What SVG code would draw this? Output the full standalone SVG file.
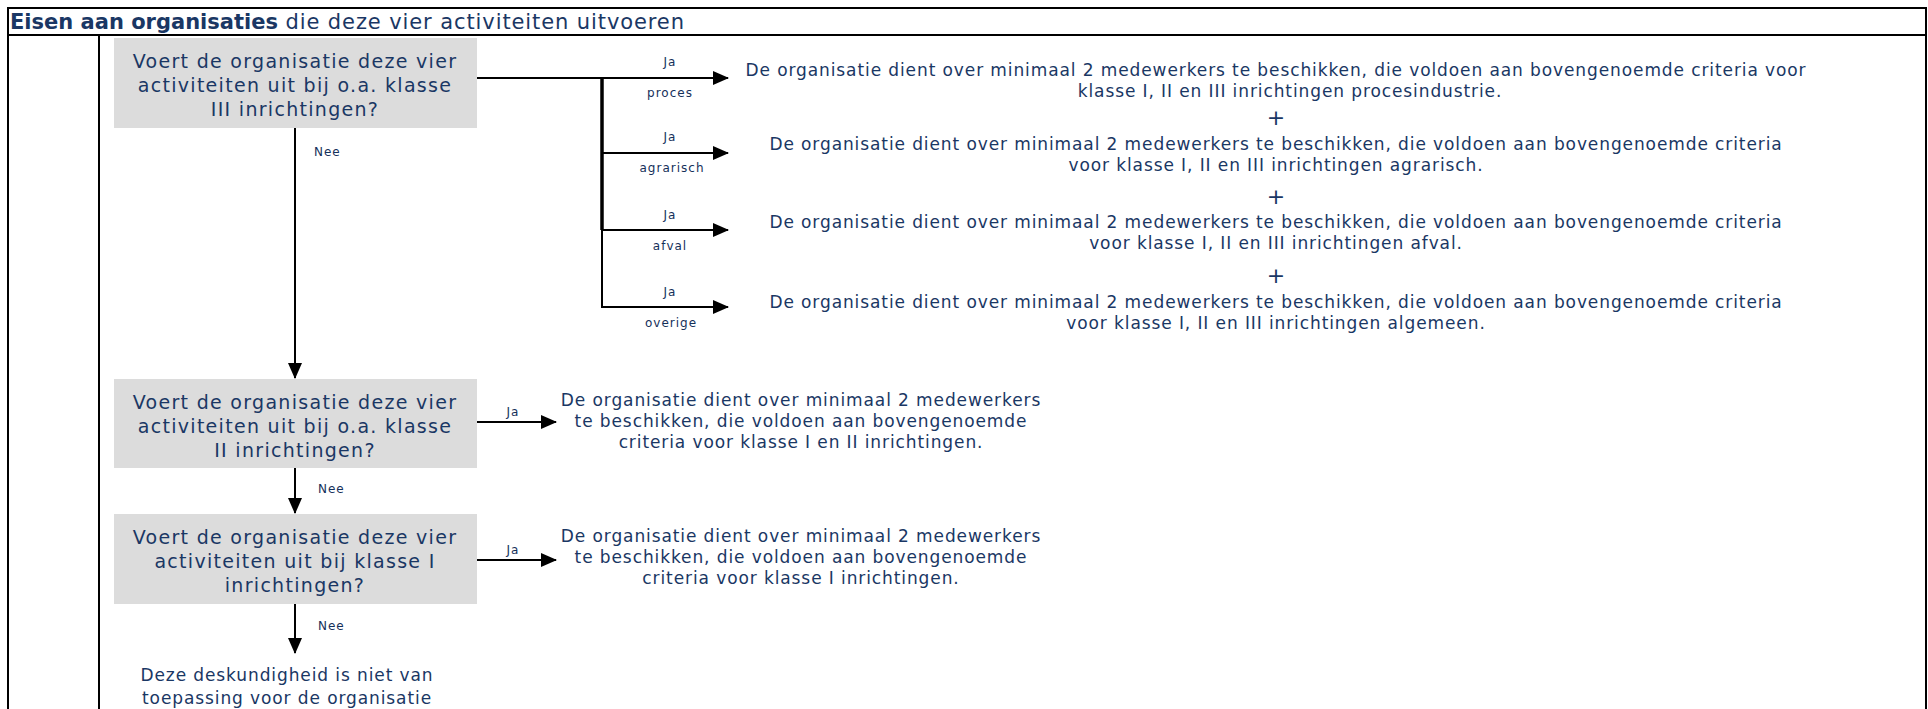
<svg xmlns="http://www.w3.org/2000/svg" width="1928" height="709" viewBox="0 0 1928 709">
<defs>
<marker id="ah" markerUnits="userSpaceOnUse" markerWidth="16" markerHeight="14" refX="15" refY="7" orient="auto">
<path d="M0,0 L16,7 L0,14 Z" fill="#000"/>
</marker>
<style>
.frame{fill:none;stroke:#000;stroke-width:2}
.box{fill:#dcdcdc}
.bt{font-family:"DejaVu Sans",Verdana,sans-serif;font-size:19px;letter-spacing:1.3px;fill:#1a3764;text-anchor:middle}
.st{font-family:"DejaVu Sans",Verdana,sans-serif;font-size:17px;letter-spacing:0.9px;fill:#1a3764;text-anchor:middle}
.lb{font-family:"DejaVu Sans",Verdana,sans-serif;font-size:12px;letter-spacing:1px;fill:#15305a}
.lc{text-anchor:middle}
.plus{font-family:"DejaVu Sans",Verdana,sans-serif;font-size:22px;fill:#1a3764;text-anchor:middle}
.hd{font-family:"DejaVu Sans",Verdana,sans-serif;font-size:21px;fill:#1a3764}
.ln{fill:none;stroke:#000;stroke-width:2}
.thick{stroke-width:3.5}
.arr{marker-end:url(#ah)}
</style>
</defs>
<rect width="1928" height="709" fill="#fff"/>
<g id="frame">
<rect class="frame" x="8" y="8" width="1918" height="720"/>
<line class="frame" x1="8" y1="35" x2="1926" y2="35"/>
<line class="frame" x1="99" y1="35" x2="99" y2="709"/>
<text class="hd" x="10" y="29"><tspan font-weight="bold">Eisen aan organisaties</tspan><tspan letter-spacing="0.9"> die deze vier activiteiten uitvoeren</tspan></text>
</g>
<g id="q1">
<rect class="box" x="114" y="38" width="363" height="90"/>
<text class="bt" x="295" y="68">Voert de organisatie deze vier</text>
<text class="bt" x="295" y="92">activiteiten uit bij o.a. klasse</text>
<text class="bt" x="295" y="116">III inrichtingen?</text>
</g>
<g id="r-proces">
<text class="st" x="1276" y="76">De organisatie dient over minimaal 2 medewerkers te beschikken, die voldoen aan bovengenoemde criteria voor</text>
<text class="st" x="1290" y="97">klasse I, II en III inrichtingen procesindustrie.</text>
</g>
<text class="plus" x="1276" y="125">+</text>
<g id="r-agrarisch">
<text class="st" x="1276" y="150">De organisatie dient over minimaal 2 medewerkers te beschikken, die voldoen aan bovengenoemde criteria</text>
<text class="st" x="1276" y="171">voor klasse I, II en III inrichtingen agrarisch.</text>
</g>
<text class="plus" x="1276" y="204">+</text>
<g id="r-afval">
<text class="st" x="1276" y="228">De organisatie dient over minimaal 2 medewerkers te beschikken, die voldoen aan bovengenoemde criteria</text>
<text class="st" x="1276" y="249">voor klasse I, II en III inrichtingen afval.</text>
</g>
<text class="plus" x="1276" y="283">+</text>
<g id="r-overige">
<text class="st" x="1276" y="308">De organisatie dient over minimaal 2 medewerkers te beschikken, die voldoen aan bovengenoemde criteria</text>
<text class="st" x="1276" y="329">voor klasse I, II en III inrichtingen algemeen.</text>
</g>
<g id="q2">
<rect class="box" x="114" y="379" width="363" height="89"/>
<text class="bt" x="295" y="409">Voert de organisatie deze vier</text>
<text class="bt" x="295" y="433">activiteiten uit bij o.a. klasse</text>
<text class="bt" x="295" y="457">II inrichtingen?</text>
</g>
<g id="r2">
<text class="st" x="801" y="406">De organisatie dient over minimaal 2 medewerkers</text>
<text class="st" x="801" y="427">te beschikken, die voldoen aan bovengenoemde</text>
<text class="st" x="801" y="448">criteria voor klasse I en II inrichtingen.</text>
</g>
<g id="q3">
<rect class="box" x="114" y="514" width="363" height="90"/>
<text class="bt" x="295" y="544">Voert de organisatie deze vier</text>
<text class="bt" x="295" y="568">activiteiten uit bij klasse I</text>
<text class="bt" x="295" y="592">inrichtingen?</text>
</g>
<g id="r3">
<text class="st" x="801" y="542">De organisatie dient over minimaal 2 medewerkers</text>
<text class="st" x="801" y="563">te beschikken, die voldoen aan bovengenoemde</text>
<text class="st" x="801" y="584">criteria voor klasse I inrichtingen.</text>
</g>
<g id="end">
<text class="st" x="287" y="681">Deze deskundigheid is niet van</text>
<text class="st" x="287" y="704">toepassing voor de organisatie</text>
</g>
<g id="connectors">
<line class="ln arr" x1="477" y1="78" x2="728" y2="78"/>
<line class="ln thick" x1="602" y1="77" x2="602" y2="230"/>
<line class="ln" x1="602" y1="229" x2="602" y2="308"/>
<line class="ln arr" x1="602" y1="153" x2="728" y2="153"/>
<line class="ln arr" x1="602" y1="230" x2="728" y2="230"/>
<line class="ln arr" x1="601" y1="307" x2="728" y2="307"/>
<line class="ln arr" x1="295" y1="128" x2="295" y2="378"/>
<line class="ln arr" x1="477" y1="422" x2="556" y2="422"/>
<line class="ln arr" x1="295" y1="468" x2="295" y2="513"/>
<line class="ln arr" x1="477" y1="560" x2="556" y2="560"/>
<line class="ln arr" x1="295" y1="604" x2="295" y2="653"/>
<text class="lb lc" x="670" y="66">Ja</text>
<text class="lb lc" x="670" y="97">proces</text>
<text class="lb lc" x="670" y="141">Ja</text>
<text class="lb lc" x="672" y="172">agrarisch</text>
<text class="lb lc" x="670" y="219">Ja</text>
<text class="lb lc" x="670" y="250">afval</text>
<text class="lb lc" x="670" y="296">Ja</text>
<text class="lb lc" x="671" y="327">overige</text>
<text class="lb" x="314" y="156">Nee</text>
<text class="lb lc" x="513" y="416">Ja</text>
<text class="lb" x="318" y="493">Nee</text>
<text class="lb lc" x="513" y="554">Ja</text>
<text class="lb" x="318" y="630">Nee</text>
</g>
</svg>
